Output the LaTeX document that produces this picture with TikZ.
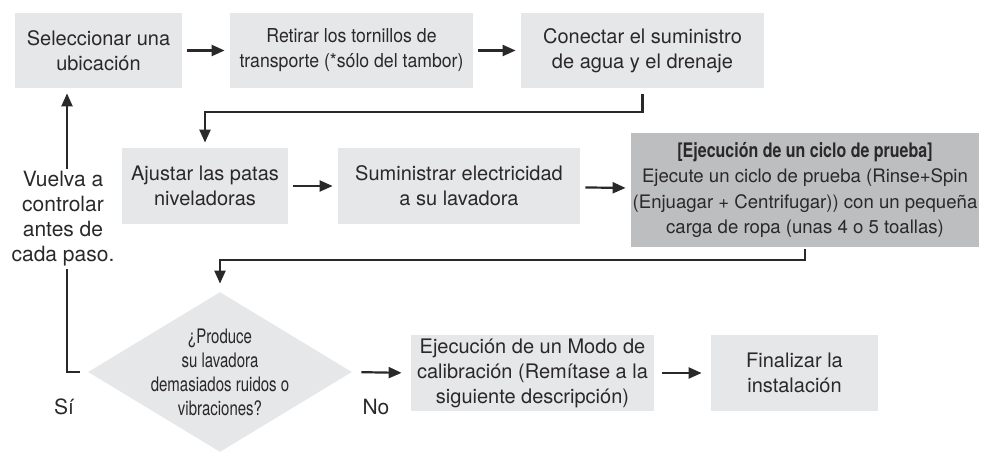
\documentclass[tikz,border=0pt]{standalone}
\usepackage{fontspec}
\setmainfont{TeX Gyre Heros}
\newfontfamily\narrowfont[FakeStretch=0.92]{TeX Gyre Heros}
\newfontfamily\condfont[FakeStretch=0.8]{TeX Gyre Heros}
\newfontfamily\slimfont[FakeStretch=0.75]{TeX Gyre Heros}
\usetikzlibrary{arrows.meta,shapes.geometric}

\definecolor{boxgray}{HTML}{E6E7E8}
\definecolor{darkgray}{HTML}{BCBEC0}
\definecolor{ink}{HTML}{2B2829}

\tikzset{
  stepbox/.style={fill=boxgray, text=ink, align=center, inner sep=0pt,
    minimum width=121.5pt, minimum height=37.5pt,
    font=\fontsize{10}{12.5}\selectfont},
  flow/.style={draw=ink, line width=1.1pt, shorten <=2.5pt, shorten >=2.5pt,
    -{Triangle[length=6.5pt,width=5.5pt]}},
  line/.style={draw=ink, line width=1.2pt}
}

\begin{document}
\begin{tikzpicture}[x=0.5pt,y=-0.5pt]
    \useasboundingbox (0,0) rectangle (986,451);

    % Top row
    \node[stepbox, minimum width=83.5pt] (select) at (98.5,50.5) {Seleccionar una\\ubicación};
    \node[stepbox, font=\narrowfont\fontsize{9.6}{12.5}\selectfont] (screws) at (351.5,50.5) {Retirar los tornillos de\\transporte (*sólo del tambor)};
    \node[stepbox] (water) at (642.5,50.5) {Conectar el suministro\\de agua y el drenaje};

    % Middle row
    \node[stepbox, minimum width=83pt, minimum height=38pt] (legs) at (205,186) {Ajustar las patas\\niveladoras};
    \node[stepbox, minimum width=121pt, minimum height=38pt] (power) at (459,186) {Suministrar electricidad\\a su lavadora};
    \node[stepbox, fill=darkgray, minimum width=174pt, minimum height=57pt,
          font=\fontsize{9.3}{12.8}\selectfont] (test) at (805,190)
        {{\condfont\bfseries\fontsize{10}{12.8}\selectfont [Ejecución de un ciclo de prueba]}\\Ejecute un ciclo de prueba (Rinse+Spin\\(Enjuagar + Centrifugar)) con un pequeña\\carga de ropa (unas 4 o 5 toallas)};

    % Bottom row
    \node[diamond, fill=boxgray, inner sep=0pt, minimum width=132pt, minimum height=80pt] (check) at (220,372) {};
    \node[text=ink, align=center, font=\slimfont\fontsize{10}{12}\selectfont] (question) at (check.center)
        {¿Produce\\su lavadora\\demasiados ruidos o\\vibraciones?};
    \node[stepbox, minimum height=38pt] (calib) at (532.5,373) {Ejecución de un Modo de\\calibración (Remítase a la\\siguiente descripción)};
    \node[stepbox, minimum width=83.5pt, minimum height=38pt] (finish) at (794.5,373) {Finalizar la\\instalación};

    % Side labels
    \node[text=ink, align=center, inner sep=1pt, font=\fontsize{10.5}{12.5}\selectfont] (recheck) at (63,219) {Vuelva a\\controlar\\antes de\\cada paso.};
    \node[text=ink, font=\fontsize{10.5}{12.5}\selectfont] (yes) at (64,407) {Sí};
    \node[text=ink, font=\fontsize{10.5}{12.5}\selectfont] (no) at (376,407) {No};

    % Bends
    \coordinate (bend1) at (205,112);
    \coordinate (bend2) at (220,260);
    \coordinate (ret) at (67,372);

    % Connectors
    \draw[flow] (select) -- (screws);
    \draw[flow] (screws) -- (water);
    \draw[flow, shorten <=3pt] (water.south) |- (bend1) -- (legs.north);
    \draw[flow] (legs) -- (power);
    \draw[flow] (power) -- (test);
    \draw[flow, shorten <=1pt, shorten >=4pt] (test.south) |- (bend2) -- (check.north);
    \draw[flow, shorten <=4.5pt, shorten >=4.5pt] (check.east) -- (calib.west);
    \draw[flow, shorten <=4pt, shorten >=4.5pt] (calib) -- (finish);
    \draw[line] ([xshift=-4pt]check.west) -- (ret) -- (ret |- recheck.south);
    \draw[flow, shorten <=0pt] (ret |- recheck.north) -- (ret |- select.south);
\end{tikzpicture}
\end{document}
